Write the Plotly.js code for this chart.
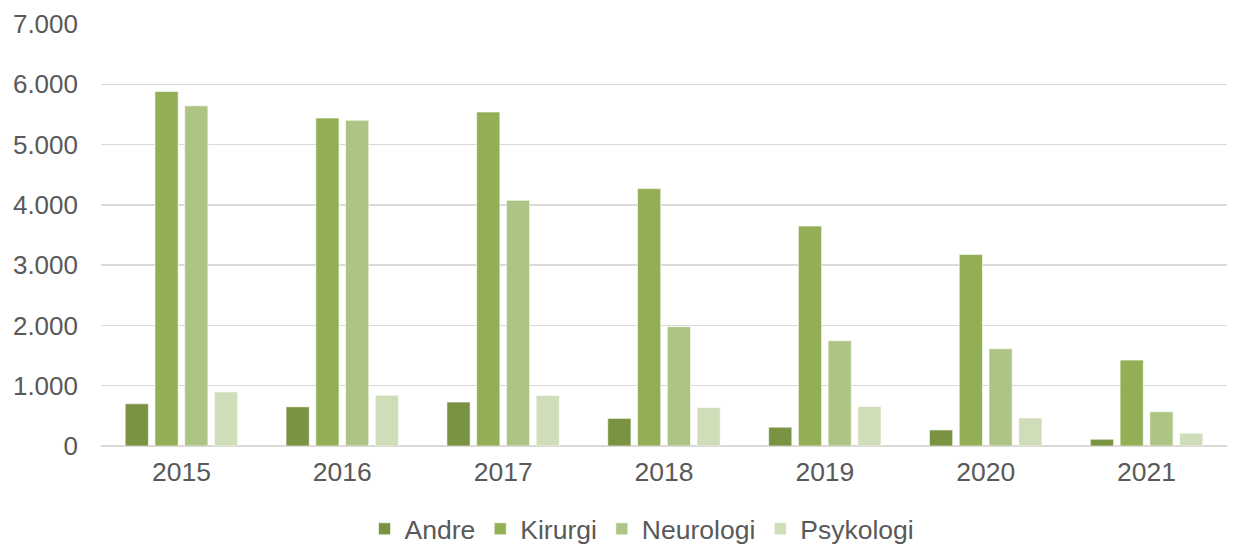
<!DOCTYPE html>
<html>
<head>
<meta charset="utf-8">
<script src="https://cdn.plot.ly/plotly-3.0.1.min.js"></script>
<style>
html,body{margin:0;padding:0;background:#fff;}
#chart{width:1240px;height:545px;}
</style>
</head>
<body>
<div id="chart"></div>
<script>
const years = ["2015", "2016", "2017", "2018", "2019", "2020", "2021"];
const andre = [700, 650, 728, 458, 312, 266, 112];
const kirurgi = [5882, 5440, 5540, 4270, 3648, 3178, 1425];
const neurologi = [5643, 5404, 4075, 1980, 1745, 1612, 568];
const psykologi = [898, 842, 838, 636, 656, 465, 213];

const seriesNames = ["Andre", "Kirurgi", "Neurologi", "Psykologi"];
const seriesValues = [andre, kirurgi, neurologi, psykologi];
const seriesColors = ["#7A9342", "#93AF55", "#ADC584", "#CFDDB9"];

const traces = seriesNames.map((n, i) => ({
  type: "bar",
  name: n,
  x: years,
  y: seriesValues[i],
  marker: {color: seriesColors[i], line: {color: "rgba(255,255,255,0.6)", width: 1}},
  hoverinfo: "x+y+name"
}));

const layout = {
  width: 1240,
  height: 545,
  margin: {l: 101, r: 13, t: 24, b: 99, autoexpand: false},
  paper_bgcolor: "#fff",
  plot_bgcolor: "#fff",
  separators: ",.",
  barmode: "group",
  bargap: 0.26,
  bargroupgap: 0.22,
  font: {family: "Liberation Sans, Arial, sans-serif", color: "#595959", size: 26.5},
  xaxis: {
    type: "category",
    showgrid: false,
    showline: false,
    ticks: "",
    tickfont: {size: 26.5, color: "#595959"},
    ticklabelstandoff: 7
  },
  yaxis: {
    range: [0, 7000],
    dtick: 1000,
    tickformat: ",d",
    showgrid: true,
    gridcolor: "#d9d9d9",
    gridwidth: 1.5,
    zeroline: true,
    zerolinecolor: "#d9d9d9",
    zerolinewidth: 1.5,
    showline: false,
    ticks: "",
    tickfont: {size: 26, color: "#595959"},
    ticklabelstandoff: 22
  },
  legend: {
    orientation: "h",
    x: 0.4805,
    xanchor: "center",
    y: -0.14,
    yanchor: "top",
    font: {size: 26.5, color: "#595959"},
    itemclick: false,
    traceorder: "normal"
  },
  showlegend: true
};

Plotly.newPlot("chart", traces, layout, {displayModeBar: false, staticPlot: true});
</script>
</body>
</html>
